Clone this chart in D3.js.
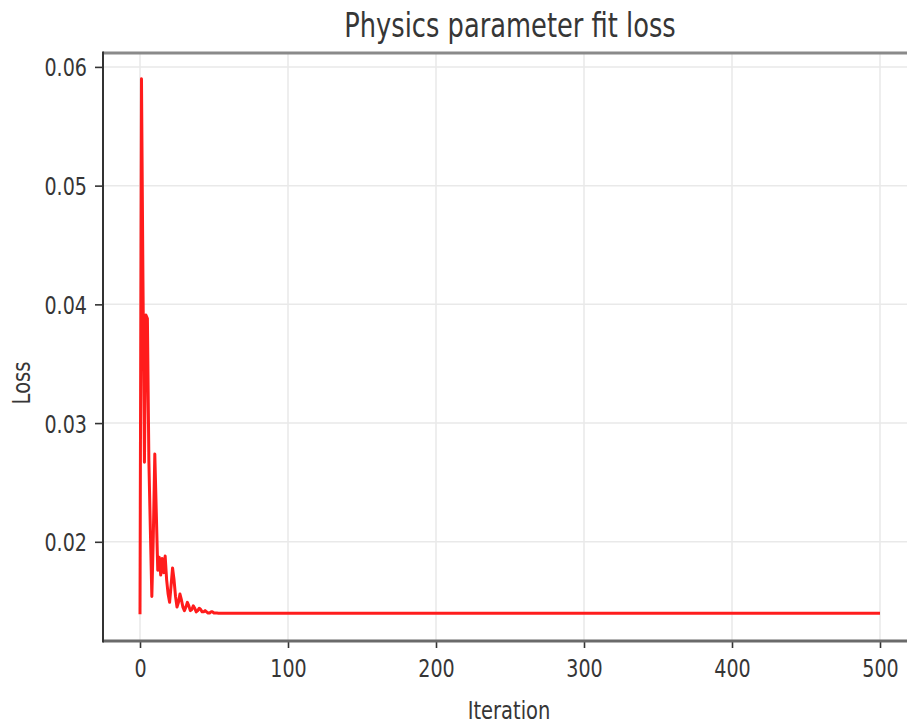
<!DOCTYPE html>
<html>
<head>
<meta charset="utf-8">
<script src="https://cdn.jsdelivr.net/npm/d3@7/dist/d3.min.js"></script>
<style>
  html, body { margin: 0; padding: 0; background: #ffffff; }
  svg { display: block; }
  text { font-family: "DejaVu Sans", sans-serif; fill: #363636; }
</style>
</head>
<body>
<svg id="chart" width="907" height="724"></svg>
<script>
// Optimisation history of the physics-parameter fit
const iterations = [
  0, 1, 2, 3, 4, 5, 6, 7, 8, 9,
  10, 11, 12, 13, 14, 15, 16, 17, 18, 19,
  20, 21, 22, 23, 24, 25, 26, 27, 28, 29,
  30, 31, 32, 33, 34, 35, 36, 37, 38, 39,
  40, 41, 42, 43, 44, 45, 46, 47, 48, 49,
  50, 51, 52, 53, 54, 55, 56, 57, 58, 59,
  60, 70, 80, 90, 100, 150, 200, 250, 300, 350, 400, 450, 500
];
const loss = [
  0.0139, 0.0590, 0.0420, 0.0267, 0.0391, 0.0388, 0.0268, 0.0210, 0.0154, 0.0205,
  0.0274, 0.0225, 0.0176, 0.0187, 0.0172, 0.0186, 0.0174, 0.0188, 0.0168, 0.0156,
  0.0149, 0.0163, 0.0178, 0.0168, 0.0154, 0.0145, 0.0149, 0.0156, 0.0151, 0.0145,
  0.0142, 0.0145, 0.0149, 0.0146, 0.0142, 0.0143, 0.0146, 0.0144, 0.0141, 0.0142,
  0.0144, 0.0143, 0.0141, 0.0141, 0.0142, 0.0141, 0.0140, 0.0140, 0.0141, 0.0141,
  0.01400, 0.01401, 0.01400, 0.01399, 0.01399, 0.01399, 0.01398, 0.01398, 0.01398, 0.01398,
  0.01398, 0.01398, 0.01398, 0.01398, 0.01398, 0.01398, 0.01398, 0.01398, 0.01398, 0.01398, 0.01398, 0.01398, 0.01398
];
const xTicks = [0, 100, 200, 300, 400, 500];
const yTicks = [0.02, 0.03, 0.04, 0.05, 0.06];
const yTickLabels = ["0.02", "0.03", "0.04", "0.05", "0.06"];

const titleText = "Physics parameter fit loss";
const xLabelText = "Iteration";
const yLabelText = "Loss";

const svg = d3.select("#chart");
const plot = { left: 103, right: 917, top: 52, bottom: 641 };
const squeeze = 0.78; // glyphs are set narrow

// 5% padding around the data range on both axes
const xExt = d3.extent(iterations), yExt = d3.extent(loss);
const xPad = (xExt[1] - xExt[0]) * 0.05, yPad = (yExt[1] - yExt[0]) * 0.05;
const x = d3.scaleLinear().domain([xExt[0] - xPad, xExt[1] + xPad]).range([plot.left, plot.right]);
const y = d3.scaleLinear().domain([yExt[0] - yPad, yExt[1] + yPad]).range([plot.bottom, plot.top]);

function narrowText(sel, px, py, size, anchor, rotate) {
  return sel.append("text")
    .attr("transform", `translate(${px},${py})` + (rotate ? ` rotate(${rotate})` : "") + ` scale(${squeeze},1)`)
    .attr("text-anchor", anchor)
    .attr("font-size", size);
}

// grid
const grid = svg.append("g").attr("stroke", "#e9e9e9").attr("stroke-width", 1.5);
grid.selectAll("line.gx").data(xTicks).join("line")
  .attr("x1", d => x(d)).attr("x2", d => x(d))
  .attr("y1", plot.top).attr("y2", plot.bottom);
grid.selectAll("line.gy").data(yTicks).join("line")
  .attr("x1", plot.left).attr("x2", plot.right)
  .attr("y1", d => y(d)).attr("y2", d => y(d));

// loss curve
const line = d3.line().x((d, i) => x(iterations[i])).y(d => y(d));
svg.append("path")
  .datum(loss)
  .attr("d", line)
  .attr("fill", "none")
  .attr("stroke", "#ff1c1c")
  .attr("stroke-width", 3)
  .attr("stroke-linejoin", "round");

// axes
const xAxis = d3.axisBottom(x).tickValues(xTicks).tickSize(7).tickPadding(6).tickFormat(d3.format("d"));
const yAxis = d3.axisLeft(y).tickValues(yTicks).tickSize(8).tickPadding(6).tickFormat((d, i) => yTickLabels[i]);

const gx = svg.append("g").attr("transform", `translate(0,${plot.bottom})`).call(xAxis);
gx.select(".domain").remove();
gx.selectAll(".tick line").attr("stroke", "#333").attr("stroke-width", 1.6);
gx.selectAll(".tick text").remove();
gx.selectAll(".tick").each(function(d) {
  narrowText(d3.select(this), 0, 36, 24.5, "middle").text(d3.format("d")(d));
});

const gy = svg.append("g").attr("transform", `translate(${plot.left},0)`).call(yAxis);
gy.select(".domain").remove();
gy.selectAll(".tick line").attr("stroke", "#333").attr("stroke-width", 1.6);
gy.selectAll(".tick text").remove();
gy.selectAll(".tick").each(function(d, i) {
  narrowText(d3.select(this), -16, 9, 24.5, "end").text(yTickLabels[i]);
});

// spines
svg.append("line").attr("x1", plot.left).attr("x2", plot.right).attr("y1", plot.top + 1).attr("y2", plot.top + 1)
  .attr("stroke", "#8a8a8a").attr("stroke-width", 3);
svg.append("line").attr("x1", plot.left).attr("x2", plot.right).attr("y1", plot.bottom).attr("y2", plot.bottom)
  .attr("stroke", "#6a6a6a").attr("stroke-width", 3);
svg.append("line").attr("x1", plot.left).attr("x2", plot.left).attr("y1", plot.top - 0.5).attr("y2", plot.bottom + 1.5)
  .attr("stroke", "#333").attr("stroke-width", 2);

// labels
narrowText(svg, 510, 37, 33, "middle").text(titleText);
narrowText(svg, 509, 719, 25, "middle").text(xLabelText);
narrowText(svg, 30, 383, 25, "middle", -90).text(yLabelText);
</script>
</body>
</html>
